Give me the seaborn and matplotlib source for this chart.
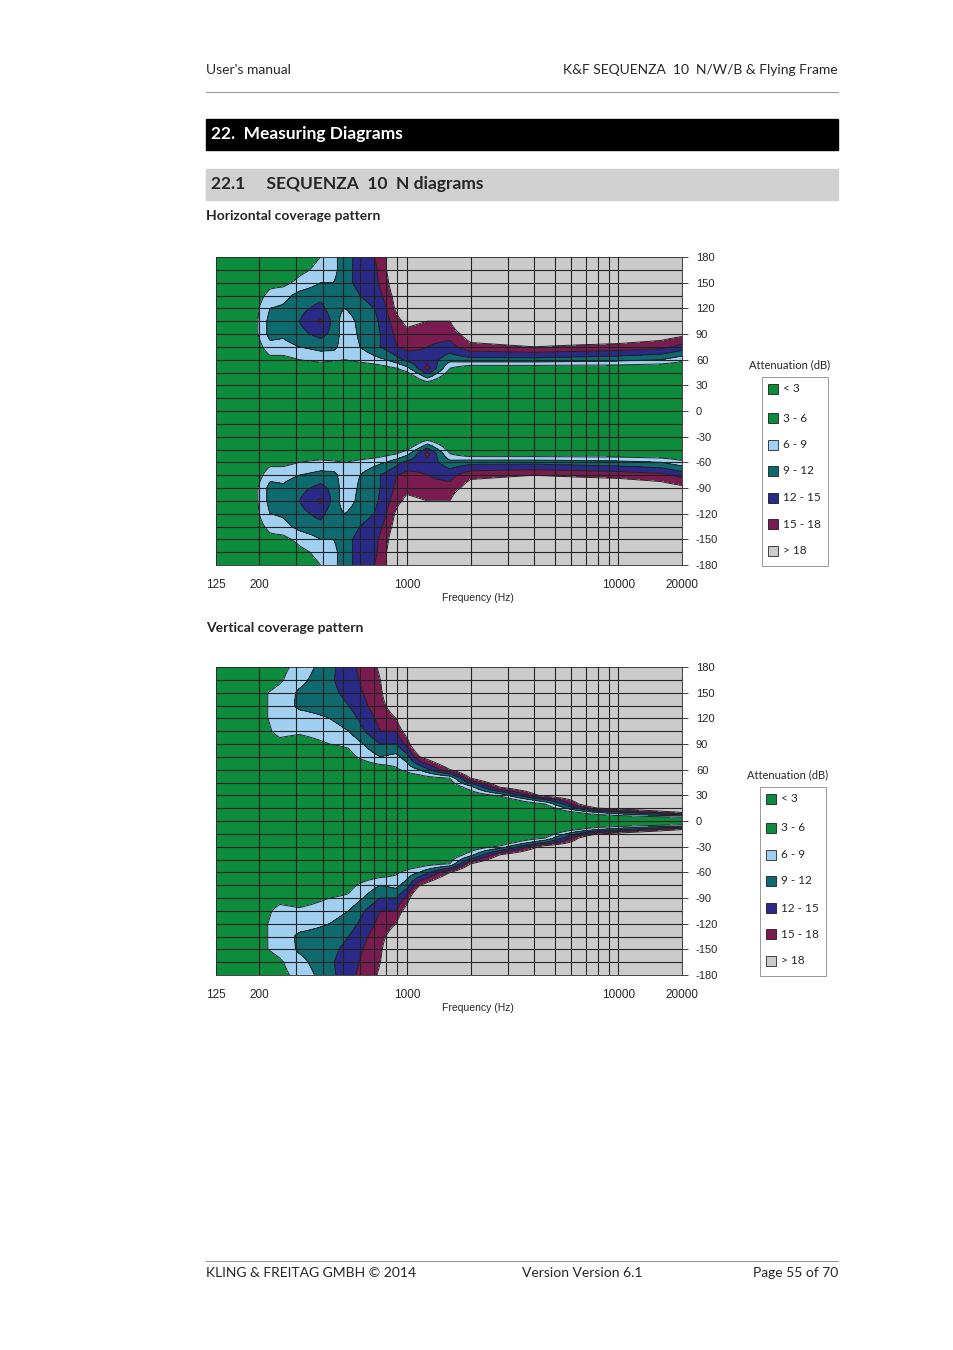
import numpy as np
import matplotlib
matplotlib.use("Agg")
import matplotlib.pyplot as plt
import seaborn as sns
from matplotlib.patches import Rectangle

sns.set_style("white")
plt.rcParams['font.family'] = ['Liberation Sans', 'DejaVu Sans']

angles = [0, 5, 10, 15, 20, 25, 30, 40, 50, 60, 75, 90, 105, 120, 135, 150, 165, 180]
freq_h = [125, 180, 200, 225, 260, 310, 390, 450, 510, 600, 700, 800, 900, 1000, 1250,
          1600, 2000, 4000, 10000, 16000, 20000]
att_h = [
    [0, 0, 0, 0, 0, 0, 0, 0, 0.5, 1, 1, 1.5, 1.5, 1.5, 1.5, 1.5, 1.5, 1.5],
    [0, 0, 0, 0, 0, 0, 0, 0.5, 1, 2, 2.5, 2.8, 2.8, 2.8, 2.5, 2, 1.5, 1.5],
    [0, 0, 0, 0, 0, 0, 0, 1, 2, 3.5, 5, 6.5, 6.5, 6, 5, 3.5, 3, 3],
    [0, 0, 0, 0, 0, 0, 0, 1, 2.5, 5, 8, 10, 10, 9, 7, 5, 4, 3.5],
    [0, 0, 0, 0, 0, 0, 0, 1.5, 3, 5, 8, 9.5, 10, 9.5, 8, 5, 2.5, 2],
    [0, 0, 0, 0, 0, 0, 0, 1.5, 3.5, 6, 9, 11, 12, 11, 10, 7, 5, 4],
    [0, 0, 0, 0, 0, 0, 0.5, 2, 3.5, 7, 10, 13, 15.5, 13, 11, 9, 7, 6],
    [0, 0, 0, 0, 0, 0, 0.5, 2, 3.5, 6.5, 10, 11, 11, 10, 10, 9, 8, 8],
    [0, 0, 0, 0, 0, 0, 0.5, 2, 3.5, 6, 7, 7, 7, 9, 10, 11, 11, 11],
    [0, 0, 0, 0, 0, 0, 0.5, 2, 3.5, 7, 9, 9.5, 10, 11, 12, 13, 13, 13],
    [0, 0, 0, 0, 0, 0, 0.5, 2, 4, 8, 11, 11, 11, 12, 13, 14, 14, 15],
    [0, 0, 0, 0, 0, 0, 0.5, 2, 5, 9, 13, 13, 14, 15, 16, 17, 18, 18],
    [0, 0, 0, 0, 0, 0, 1, 2.5, 6, 11, 15, 16, 17, 19, 20, 22, 22, 22],
    [0, 0, 0, 0, 0, 0, 1, 3, 8, 13, 16, 17, 19, 22, 25, 25, 25, 25],
    [0, 0, 0, 0, 0, 1, 3, 10, 16, 14, 15, 16, 18, 20, 25, 25, 25, 25],
    [0, 0, 0, 0, 0, 0, 1, 3, 6, 10, 14, 16, 18, 22, 25, 25, 25, 25],
    [0, 0, 0, 0, 0, 0, 0.5, 1.5, 3.5, 11, 17, 20, 25, 25, 25, 25, 25, 25],
    [0, 0, 0, 0, 0, 0, 0.5, 1.5, 3.5, 11, 18, 21, 25, 25, 25, 25, 25, 25],
    [0, 0, 0, 0, 0, 0, 0.5, 1.5, 3.5, 10, 17, 21, 25, 25, 25, 25, 25, 25],
    [0, 0, 0, 0, 0, 0, 0.5, 1.5, 3, 9, 16, 20, 25, 25, 25, 25, 25, 25],
    [0, 0, 0, 0, 0, 0, 0.5, 1, 2.5, 7, 14, 19, 25, 25, 25, 25, 25, 25],
]
freq_v = [125, 220, 250, 310, 430, 530, 750, 890, 1000, 1150, 1600, 2000, 2800, 4500, 8000, 20000]
att_v = [
    [0, 0, 0, 0, 0, 0, 0, 0, 1, 2, 2, 2.5, 3, 3, 3, 3, 3, 3],
    [0, 0, 0, 0, 0, 0, 0, 0, 1, 2, 3, 4, 5.5, 6, 6, 6, 4.5, 4],
    [0, 0, 0, 0, 0, 0, 0, 0, 1, 2, 3, 5, 7, 7.5, 7.5, 7, 5.5, 5],
    [0, 0, 0, 0, 0, 0, 0, 0, 1, 2, 3, 4.5, 6.5, 8, 9.5, 9.5, 8, 7],
    [0, 0, 0, 0, 0, 0, 0, 0, 1, 2, 4, 6, 7.5, 9, 10, 11, 11.5, 11],
    [0, 0, 0, 0, 0, 0, 0, 0, 1.5, 3, 5, 6.5, 9, 10.5, 12, 13, 13.5, 14],
    [0, 0, 0, 0, 0, 0, 0, 0, 2, 4, 9, 12, 15, 16, 17, 17.5, 18, 18.5],
    [0, 0, 0, 0, 0, 0, 0, 1, 2.5, 5.5, 8, 12, 15, 18, 20, 22, 24, 25],
    [0, 0, 0, 0, 0, 0, 0, 1.5, 3.5, 7, 10.5, 16, 20, 25, 25, 25, 25, 25],
    [0, 0, 0, 0, 0, 0, 0, 2, 4, 9, 18, 25, 25, 25, 25, 25, 25, 25],
    [0, 0, 0, 0, 0, 0, 1, 3, 6, 18, 25, 25, 25, 25, 25, 25, 25, 25],
    [0, 0, 0, 0, 0, 1, 3, 8, 18, 25, 25, 25, 25, 25, 25, 25, 25, 25],
    [0, 0, 0, 0, 1, 3, 7, 19, 25, 25, 25, 25, 25, 25, 25, 25, 25, 25],
    [0, 0, 1, 3, 6, 12, 20, 25, 25, 25, 25, 25, 25, 25, 25, 25, 25, 25],
    [0, 3, 9, 18, 25, 25, 25, 25, 25, 25, 25, 25, 25, 25, 25, 25, 25, 25],
    [0, 7, 18, 25, 25, 25, 25, 25, 25, 25, 25, 25, 25, 25, 25, 25, 25, 25],
]
levels = [0, 3, 6, 9, 12, 15, 18, 40]
colors = ["#0c8c3c", "#0c8c3c", "#a0cff0", "#0e6a6e", "#2a2a88", "#7a1c50", "#cbcbcb"]
legend_labels = ["< 3", "3 - 6", "6 - 9", "9 - 12", "12 - 15", "15 - 18", "> 18"]
grid_freqs = [200, 300, 400, 500, 600, 700, 800, 900, 1000, 2000, 3000, 4000, 5000,
              6000, 7000, 8000, 9000, 10000, 20000]
ytick_vals = [180, 150, 120, 90, 60, 30, 0, -30, -60, -90, -120, -150, -180]
xtick_vals = [125, 200, 1000, 10000, 20000]

fig = plt.figure(figsize=(9.54, 13.5), dpi=100)
W, H = 954, 1350

def fx(px): return px / W
def fy(py): return 1 - py / H

TF = ['Lato', 'DejaVu Sans']
fig.text(fx(206), fy(70), "User's manual", fontsize=10, va="center", family=TF)
fig.text(fx(838), fy(70), "K&F SEQUENZA  10  N/W/B & Flying Frame", fontsize=10, va="center", ha="right", family=TF)
fig.add_artist(plt.Line2D([fx(206), fx(838)], [fy(92), fy(92)], color="#999999", lw=0.8))
fig.add_artist(Rectangle((fx(206), fy(150)), fx(838) - fx(206), fy(119) - fy(150), color="black"))
fig.text(fx(211), fy(134), "22.  Measuring Diagrams", fontsize=12.5, weight="bold", color="white", va="center", family=TF)
fig.add_artist(Rectangle((fx(206), fy(200)), fx(838) - fx(206), fy(169) - fy(200), color="#d0d0d0"))
fig.text(fx(211), fy(184), "22.1     SEQUENZA  10  N diagrams", fontsize=12.5, weight="bold", va="center", family=TF)
fig.text(fx(206), fy(216), "Horizontal coverage pattern", fontsize=10, weight="bold", va="center", family=TF)
fig.text(fx(206), fy(628), "Vertical coverage pattern", fontsize=10, weight="bold", va="center", family=TF)
fig.add_artist(plt.Line2D([fx(206), fx(838)], [fy(1261), fy(1261)], color="#999999", lw=0.8))
fig.text(fx(206), fy(1273), "KLING & FREITAG GMBH © 2014", fontsize=10, va="center", family=TF)
fig.text(fx(522), fy(1273), "Version Version 6.1", fontsize=10, va="center", family=TF)
fig.text(fx(838), fy(1273), "Page 55 of 70", fontsize=10, va="center", ha="right", family=TF)

def panel(top, freqs, att, legx):
    ax = fig.add_axes([fx(216), fy(top + 308), fx(682) - fx(216), 308 / H])
    a = np.array(angles, float)
    full_ang = np.concatenate([-a[::-1], a[1:]])
    A = np.array(att, float)
    Z = np.concatenate([A[:, ::-1], A[:, 1:]], axis=1).T
    fine_ang = np.linspace(-180, 180, 721)
    fine_f = np.logspace(np.log10(125), np.log10(20000), 400)
    lf = np.log10(freqs)
    Zf = np.array([np.interp(np.log10(fine_f), lf, row) for row in Z])
    Zff = np.array([np.interp(fine_ang, full_ang, Zf[:, j]) for j in range(Zf.shape[1])]).T
    ax.contourf(fine_f, fine_ang, Zff, levels=levels, colors=colors)
    ax.contour(fine_f, fine_ang, Zff, levels=levels[2:-1], colors="#222222", linewidths=0.7)
    ax.set_xscale("log")
    ax.set_xlim(125, 20000)
    ax.set_ylim(-180, 180)
    for g in grid_freqs:
        ax.axvline(g, color="#222222", lw=0.8)
    for yv in range(-165, 180, 15):
        ax.axhline(yv, color="#222222", lw=0.8)
    ax.yaxis.tick_right()
    ax.set_yticks(ytick_vals)
    ax.set_yticklabels([str(v) for v in ytick_vals], fontsize=8)
    ax.tick_params(axis="y", length=4, width=0.6, direction="out", right=True, pad=6)
    ax.set_xticks(xtick_vals)
    ax.set_xticklabels([str(v) for v in xtick_vals], fontsize=8.5)
    ax.xaxis.set_minor_locator(matplotlib.ticker.NullLocator())
    ax.tick_params(axis="x", length=0, pad=10)
    for s in ax.spines.values():
        s.set_linewidth(0.6)
    fig.text(fx(478), fy(top + 341), "Frequency (Hz)", fontsize=7.5, ha="center", va="center")
    fig.text(fx(legx - 13), fy(top + 108), "Attenuation (dB)", fontsize=8, va="center", family=TF)
    box_top = top + 120
    fig.add_artist(Rectangle((fx(legx), fy(box_top + 189)), fx(66), 189 / H,
                             fill=False, ec="#888888", lw=0.6))
    ys = [12, 41, 68, 94, 121, 147, 174]
    for c, l, yy in zip(colors, legend_labels, ys):
        fig.add_artist(Rectangle((fx(legx + 6), fy(box_top + yy + 5)), fx(10), 10 / H,
                                 fc=c, ec="black", lw=0.5))
        fig.text(fx(legx + 21), fy(box_top + yy), l, fontsize=8.5, va="center", family=TF)
    return ax

panel(257, freq_h, att_h, 762)
panel(667, freq_v, att_v, 760)

fig.savefig("out.png", dpi=100)
